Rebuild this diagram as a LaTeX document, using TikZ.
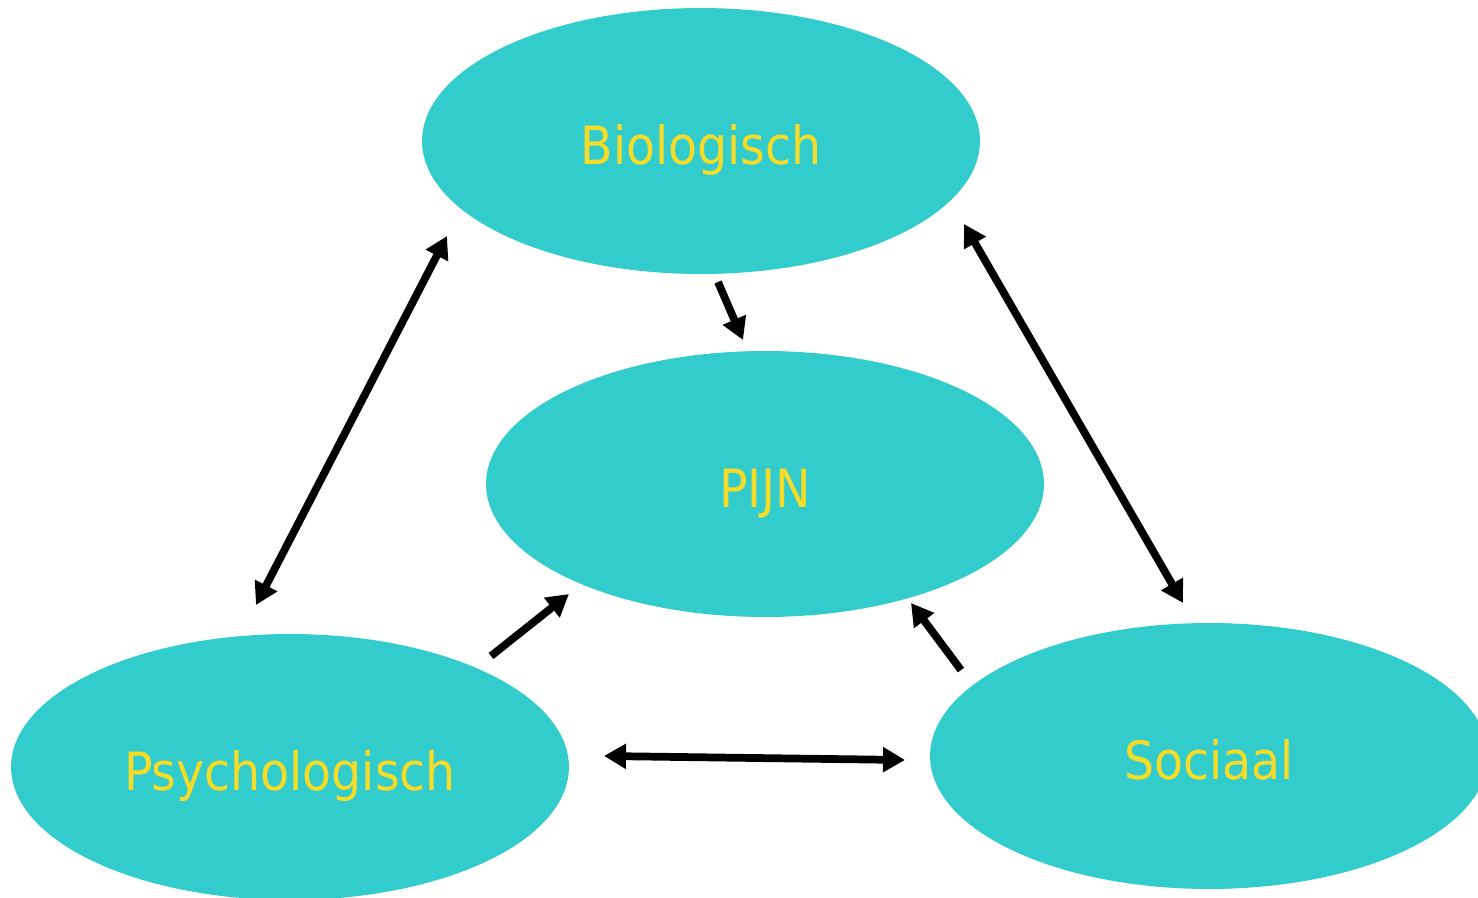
\documentclass[tikz,border=0pt]{standalone}
\usepackage{fontspec}
\setmainfont{DejaVu Sans Condensed}
\usetikzlibrary{shapes.geometric,arrows.meta}
\definecolor{teal}{HTML}{33CCCC}
\definecolor{labelyellow}{HTML}{F5DC28}
\tikzset{
  blob/.style={ellipse, fill=teal, draw=none, minimum width=11.16cm, minimum height=5.32cm, inner sep=0pt,
    text=labelyellow, font=\fontsize{30}{35}\selectfont, text height=0.94cm, text depth=0pt},
  link/.style={line width=4.4pt, -{Triangle[length=0.44cm,width=0.48cm]}},
  dlink/.style={line width=4.4pt, {Triangle[length=0.44cm,width=0.48cm]}-{Triangle[length=0.44cm,width=0.48cm]}}
}
\begin{document}
\begin{tikzpicture}[x=0.02cm,y=-0.02cm]
\clip (0,0) rectangle (1478,898);
\fill[white] (0,0) rectangle (1478,898);
\node[blob] (bio) at (701,141) {Biologisch};
\node[blob] (pijn) at (765,484) {PIJN};
\node[blob] (psy) at (290,767) {Psychologisch};
\node[blob] (soc) at (1209,756) {Sociaal};
% arrow end points
\coordinate (bioL) at (447,236);
\coordinate (psyT) at (256,605);
\coordinate (bioB) at (718,282);
\coordinate (pijnT) at (743,340);
\coordinate (bioR) at (964,224);
\coordinate (socT) at (1183,603);
\coordinate (psyR) at (491,656);
\coordinate (pijnL) at (569,594);
\coordinate (socL) at (961,670);
\coordinate (pijnR) at (911,603);
\coordinate (psyE) at (604,756);
\coordinate (socW) at (905,760);
\draw[dlink] (bioL) -- (psyT);
\draw[link] (bioB) -- (pijnT);
\draw[dlink] (bioR) -- (socT);
\draw[link] (psyR) -- (pijnL);
\draw[link] (socL) -- (pijnR);
\draw[dlink] (psyE) -- (socW);
\end{tikzpicture}
\end{document}
